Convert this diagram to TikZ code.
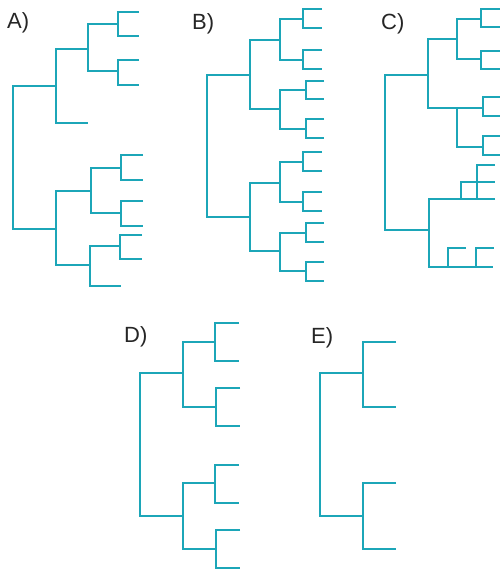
\documentclass[tikz,border=0pt]{standalone}
\usepackage{fontspec}
\setmainfont{Liberation Sans}
\usetikzlibrary{positioning}
\definecolor{treeteal}{RGB}{28,166,184}
\newcommand{\clade}[5]{\draw[branch] (#3,#2) -| (#1,#4) -- (#5,#4);}

\begin{document}
\begin{tikzpicture}[x=1pt,y=-1pt,font=\fontsize{22}{26}\selectfont,
  branch/.style={treeteal,line width=2pt,line cap=butt,line join=miter},
  panel/.style={anchor=base west,inner sep=0pt,text=black!85}]
\useasboundingbox (0,0) rectangle (500,570);
% panel labels
\foreach \t/\x/\y in {A/7/28,B/192/29,C/381/29,D/124/342,E/311/343}
  \node[panel] (lab\t) at (\x,\y) {\t)};
% tree A
\clade{13}{86}{56}{229}{56}
\clade{56}{49}{88}{123}{88}
\clade{88}{24}{118}{71}{118}
\clade{118}{12}{139}{36}{139}
\clade{118}{60}{139}{85}{139}
\clade{56}{191}{91}{265}{90}
\clade{91}{168}{121}{213}{121}
\clade{121}{155}{143}{180}{143}
\clade{121}{201}{143}{226}{143}
\clade{90}{246}{120}{286}{121}
\clade{120}{235}{142}{259}{142}
% tree B
\clade{207}{75}{250}{217}{250}
\clade{250}{40}{280}{109}{280}
\clade{280}{19}{303}{60}{303}
\clade{303}{9}{322}{28}{322}
\clade{303}{50}{322}{69}{322}
\clade{280}{90}{306}{129}{306}
\clade{306}{81}{324}{99}{324}
\clade{306}{119}{324}{138}{324}
\clade{250}{183}{280}{251}{280}
\clade{280}{162}{303}{202}{303}
\clade{303}{152}{322}{171}{322}
\clade{303}{192}{322}{211}{322}
\clade{280}{233}{306}{271}{306}
\clade{306}{223}{324}{242}{324}
\clade{306}{262}{324}{281}{324}
% tree C
\clade{385}{75}{428}{230}{429}
\clade{428}{39}{457}{108}{483}
\clade{457}{19}{481}{59}{481}
\clade{481}{9}{500}{27}{500}
\clade{481}{51}{500}{69}{500}
\draw[branch] (457,108) |- (483,147);
\clade{483}{97}{500}{116}{500}
\clade{483}{136}{500}{155}{500}
\clade{429}{199}{495}{267}{493}
\draw[branch] (461,199) |- (495,182);
\draw[branch] (477,199) |- (495,165);
\draw[branch] (448,267) |- (466,248);
\draw[branch] (476,267) |- (494,248);
% tree D
\clade{140}{373}{183}{516}{183}
\clade{183}{342}{215}{407}{216}
\clade{215}{323}{239}{361}{239}
\clade{216}{388}{240}{426}{240}
\clade{183}{483}{215}{549}{216}
\clade{215}{465}{239}{503}{239}
\clade{216}{530}{240}{568}{240}
% tree E
\clade{320}{373}{363}{516}{363}
\clade{363}{342}{396}{407}{396}
\clade{363}{483}{396}{549}{396}
\end{tikzpicture}
\end{document}
